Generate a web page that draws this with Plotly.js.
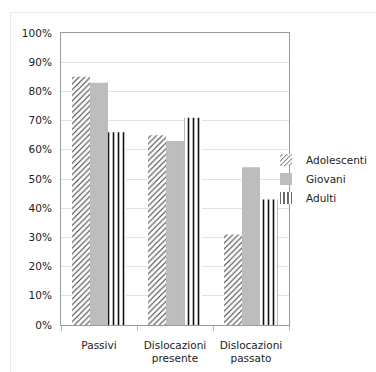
<!DOCTYPE html>
<html>
<head>
<meta charset="utf-8">
<script src="https://cdn.plot.ly/plotly-3.0.1.min.js"></script>
<style>
html,body{margin:0;padding:0;background:#fff;}
#frame{position:absolute;left:10px;top:12px;width:420px;height:420px;border:1px solid #e8e8e8;}
#chart{position:absolute;left:0;top:0;width:376px;height:372px;}
</style>
</head>
<body>
<div id="frame"></div>
<div id="chart"></div>
<script>
const categories = ["Passivi", "Dislocazioni<br>presente", "Dislocazioni<br>passato"];
const adolescenti = [85, 65, 31];
const giovani = [83, 63, 54];
const adulti = [66, 71, 43];
const yTickVals = [0, 10, 20, 30, 40, 50, 60, 70, 80, 90, 100];
const yTickText = ["0%", "10%", "20%", "30%", "40%", "50%", "60%", "70%", "80%", "90%", "100%"];

const font = {family: "DejaVu Sans, Verdana, sans-serif", size: 10.5, color: "#222"};

const traces = [
  {type: "bar", name: "Adolescenti", x: categories, y: adolescenti,
   marker: {color: "#ffffff", line: {width: 0},
            pattern: {shape: "/", fgcolor: "#444", bgcolor: "#ffffff", size: 4, solidity: 0.28}}},
  {type: "bar", name: "Giovani", x: categories, y: giovani,
   marker: {color: "#bdbdbd", line: {width: 0}}},
  {type: "bar", name: "Adulti", x: categories, y: adulti,
   marker: {color: "#ffffff", line: {width: 0},
            pattern: {shape: "|", fgcolor: "#111", bgcolor: "#ffffff", size: 5, solidity: 0.32}}}
];

const layout = {
  width: 376, height: 372,
  margin: {l: 61, r: 87, t: 33, b: 47, autoexpand: false},
  paper_bgcolor: "rgba(0,0,0,0)",
  plot_bgcolor: "#ffffff",
  font: font,
  showlegend: true,
  barmode: "group",
  bargap: 0.29,
  bargroupgap: 0,
  legend: {x: 0.899, xanchor: "left", y: 0.615, yanchor: "top",
           bgcolor: "rgba(0,0,0,0)", font: font, itemwidth: 30, tracegroupgap: 0},
  xaxis: {type: "category", showline: true, linecolor: "#999", linewidth: 1, mirror: true,
          ticks: "outside", tickson: "boundaries", ticklen: 5, tickcolor: "#bbb",
          ticklabelstandoff: 10,
          showgrid: false, tickfont: font, fixedrange: true},
  yaxis: {range: [0, 100], tickvals: yTickVals, ticktext: yTickText,
          showline: true, linecolor: "#999", linewidth: 1, mirror: true,
          showgrid: true, gridcolor: "#e2e2e2", gridwidth: 1,
          ticks: "", ticklabelstandoff: 6, tickfont: font, zeroline: false, fixedrange: true}
};

Plotly.newPlot("chart", traces, layout, {displayModeBar: false, staticPlot: true});
</script>
</body>
</html>
